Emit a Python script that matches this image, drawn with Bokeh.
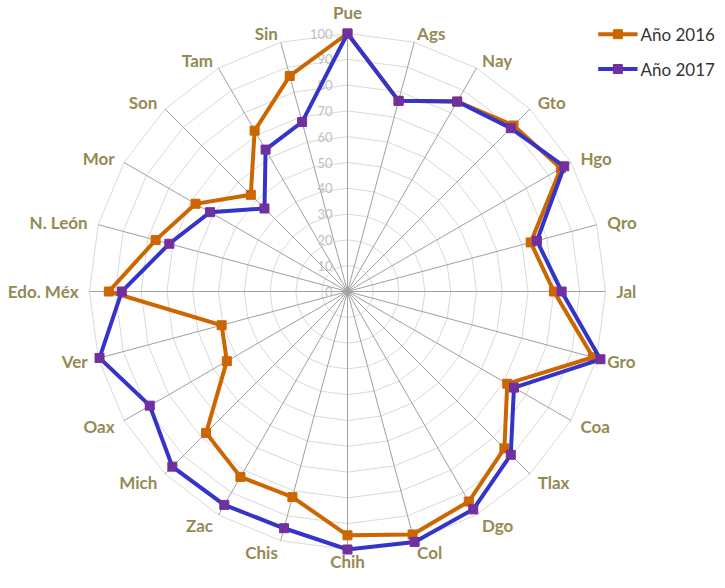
import numpy as np
from bokeh.plotting import figure
from bokeh.models import Range1d
from bokeh.embed import file_html
from bokeh.resources import INLINE
from bokeh.core.properties import value

# ---------------- data ----------------
categories = ["Pue", "Ags", "Nay", "Gto", "Hgo", "Qro", "Jal", "Gro", "Coa", "Tlax",
              "Dgo", "Col", "Chih", "Chis", "Zac", "Mich", "Oax", "Ver", "Edo. Méx",
              "N. León", "Mor", "Son", "Tam", "Sin"]
values_2016 = [100, 76.5, 85, 91, 95.5, 73.5, 80, 98.5, 71.5, 86,
               94, 97.5, 94.5, 82.5, 83, 77.5, 54, 50.5, 92.5,
               77, 68, 53, 72, 86.5]
values_2017 = [100, 76.5, 85, 89.5, 97, 76, 83, 101.5, 74.5, 89.5,
               97.5, 100.5, 100, 95, 95.5, 96, 88.5, 99.5, 87.5,
               71.5, 61.5, 45.5, 63.5, 68]
series_names = ["Año 2016", "Año 2017"]
tick_values = [0, 10, 20, 30, 40, 50, 60, 70, 80, 90, 100]
tick_labels = [str(v) for v in tick_values]

# ---------------- styles ----------------
R = 258.0          # pixel radius of the 100 ring
VMAX = 100.0
ORANGE = "#CC6600"
BLUE = "#3434C8"
PURPLE = "#7030A0"
LABEL_COLOR = "#948A54"
FONT = "Lato"
Y_BOTTOM = -281

n = len(categories)
theta = np.arange(n) * 2 * np.pi / n      # clockwise from the top
sin_t, cos_t = np.sin(theta), np.cos(theta)


def to_xy(vals):
    r = np.asarray(vals, dtype=float) / VMAX * R
    return r * sin_t, r * cos_t


p = figure(width=717, height=572,
           x_range=Range1d(-347, 370), y_range=Range1d(Y_BOTTOM, 291),
           output_backend="svg", toolbar_location=None,
           x_axis_type=None, y_axis_type=None, min_border=0,
           outline_line_color=None)
p.background_fill_color = "white"
p.border_fill_color = "white"

# rings
ring_xs, ring_ys = [], []
for t in tick_values[1:]:
    x, y = to_xy([t] * n)
    ring_xs.append(list(x) + [x[0]])
    ring_ys.append(list(y) + [y[0]])
p.multi_line(ring_xs, ring_ys, line_color="#D9D9D9", line_width=1)

# spokes
ex, ey = to_xy([VMAX] * n)
p.segment(x0=[0] * n, y0=[0] * n, x1=ex, y1=ey, line_color="#A0A0A0", line_width=1)

# radial tick labels
p.text(x=[-15] * len(tick_values), y=[v / VMAX * R for v in tick_values], text=tick_labels,
       text_align="right", text_baseline="middle", text_font=value(FONT),
       text_font_size="13px", text_color="#BFBFBF")

# category labels
groups = {"left": ([], [], []), "right": ([], [], []), "ctop": ([], [], []), "cbot": ([], [], [])}
for i, c in enumerate(categories):
    s, co = sin_t[i], cos_t[i]
    if abs(s) < 1e-9:
        if co > 0:
            groups["ctop"][0].append(0.0); groups["ctop"][1].append(R + 21); groups["ctop"][2].append(c)
        else:
            groups["cbot"][0].append(0.0); groups["cbot"][1].append(Y_BOTTOM + 1); groups["cbot"][2].append(c)
        continue
    k = 9.0 if co > 0 else 12.4
    x = R * s + 11 * s
    y = R * co + k * co
    key = "left" if s > 0 else "right"
    groups[key][0].append(x); groups[key][1].append(y); groups[key][2].append(c)

for key, align, base in [("left", "left", "middle"), ("right", "right", "middle"),
                         ("ctop", "center", "middle"), ("cbot", "center", "bottom")]:
    gx, gy, gt = groups[key]
    p.text(x=gx, y=gy, text=gt, text_align=align, text_baseline=base,
           text_font=value(FONT), text_font_style="bold", text_font_size="17px",
           text_color=LABEL_COLOR)

# series
for vals, lc, mc in [(values_2016, ORANGE, ORANGE), (values_2017, BLUE, PURPLE)]:
    x, y = to_xy(vals)
    p.line(list(x) + [x[0]], list(y) + [y[0]], line_color=lc, line_width=4, line_join="miter")
    p.scatter(x, y, marker="square", size=9, fill_color=mc, line_color=mc)

# legend (drawn manually)
leg_x0, leg_x1, leg_tx = 250.7, 290.0, 293.0
leg_y = [257.3, 222.5]
for (name, lc, mc), ly in zip([(series_names[0], ORANGE, ORANGE), (series_names[1], BLUE, PURPLE)], leg_y):
    p.line([leg_x0, leg_x1], [ly, ly], line_color=lc, line_width=4)
    p.scatter([(leg_x0 + leg_x1) / 2], [ly], marker="square", size=9, fill_color=mc, line_color=mc)
    p.text(x=[leg_tx], y=[ly], text=[name], text_align="left", text_baseline="middle",
           text_font=value(FONT), text_font_size="17px", text_color="#333333")

open("out.html", "w").write(file_html(p, INLINE))
